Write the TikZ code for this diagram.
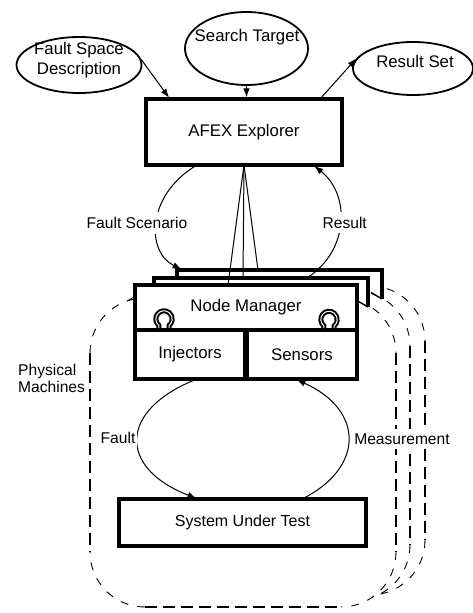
\documentclass[tikz,border=0pt]{standalone}
\usepackage{fontspec}
\setmainfont{Liberation Sans}
\usetikzlibrary{shapes.geometric,arrows.meta}
\newcommand\dregion[4]{%
  \fill[white] (#1,#2) [rounded corners=55pt] rectangle (#3,#4);
  \draw[dstraight] (#3,{#2+55}) -- (#3,{#4-55});
  \draw[dstraight] ({#1+55},#4) -- ({#3-55},#4);
  \draw[dstraight] (#1,{#2+55}) -- (#1,{#4-55});
  \draw[darc] ({#3-55},#2) arc[start angle=270,end angle=360,radius=55];
  \draw[darc] (#3,{#4-55}) arc[start angle=0,end angle=90,radius=55];
  \draw[darc] ({#1+55},#4) arc[start angle=90,end angle=180,radius=55];
  \draw[darc] (#1,{#2+55}) arc[start angle=180,end angle=270,radius=55];
}
\newcommand\omegaconn[2]{%
  \draw[line width=5pt] ({#1-5.2},330) -- ({#1-5.2},{#2+6.3}) arc[start angle=129.5,end angle=410.5,radius=8.2] -- ({#1+5.2},330);
  \draw[white,line width=1pt] ({#1-5.2},328) -- ({#1-5.2},{#2+6.3}) arc[start angle=129.5,end angle=410.5,radius=8.2] -- ({#1+5.2},328);
}
\begin{document}
\begin{tikzpicture}[x=1pt,y=-1pt,
  boxthick/.style={draw,line width=3.2pt,fill=white,inner sep=0pt,outer sep=0pt,anchor=north west},
  oval/.style={draw,ellipse,line width=1.8pt,inner sep=0pt},
  conn/.style={line width=1pt},
  arr/.style={conn,-{Latex[length=9pt,width=6.5pt]}},
  main/.style={font=\fontsize{16.8}{19.5}\selectfont},
  lbl/.style={fill=white,inner xsep=3pt,inner ysep=5pt,font=\fontsize{15.6}{17}\selectfont},
  dstraight/.style={line width=1.9pt,dash pattern=on 12pt off 6pt},
  darc/.style={line width=0.9pt,dash pattern=on 8pt off 9pt},
  cardfill/.style={fill=white,draw=none,inner sep=0pt,outer sep=0pt,anchor=north west},
  cardedge/.style={line width=3.2pt,line join=miter},
  carddiag/.style={line width=1.4pt}
]
\useasboundingbox (0,0) rectangle (473,613);

% dashed machine regions (back to front)
\dregion{119}{286}{425}{595}
\dregion{104}{291}{410}{600}
\dregion{90}{298}{396}{607}

% stacked cards behind the front one
\node[cardfill,minimum width=205,minimum height=22] (card3) at (177,270) {};
\fill[white] (382,292) -- (382,299) -- (370,292) -- cycle;
\draw[cardedge] (177,280) -- (177,270) -- (382,270) -- (382,299);
\draw[carddiag] (371,292.5) -- (382,299);
\node[cardfill,minimum width=214,minimum height=23] (card2) at (154,278) {};
\fill[white] (368,301) -- (368,307) -- (357,301) -- cycle;
\draw[cardedge] (154,287) -- (154,278) -- (368,278) -- (368,307);
\draw[carddiag] (357,300.5) -- (368,307);

% front card
\node[boxthick,minimum width=222,minimum height=45,main] (nm) at (135,285) {Node Manager};
\node[boxthick,minimum width=110,minimum height=49,main] (inj) at (135,330) {Injectors};
\node[boxthick,minimum width=110,minimum height=49,main] (sen) at (247,330) {Sensors};
\omegaconn{164}{319}
\omegaconn{329}{319.5}

% explorer and inputs/outputs
\node[boxthick,minimum width=196,minimum height=66,main] (afex) at (146,99) {AFEX Explorer};
\node[boxthick,minimum width=247,minimum height=47,font=\fontsize{16}{19}\selectfont] (sut) at (119,499) {System Under Test};

\node[oval,minimum width=125,minimum height=56] (fsd) at (79,65) {};
\node[main,align=center,inner sep=0pt] (fsdt) at (79,60) {Fault Space\\Description};
\node[oval,minimum width=123,minimum height=73] (st) at (246.5,48.5) {};
\node[main,inner sep=0pt] (stt) at (247,37) {Search Target};
\node[oval,minimum width=120,minimum height=53] (rs) at (413,68.5) {};
\node[main,inner sep=0pt] (rst) at (415,61) {Result Set};

% connectors
\draw[arr,shorten >=1.6pt] (fsd.5) -- ([xshift=24pt]afex.north west);
\draw[arr,shorten >=1.6pt] (st.south) -- (st.south |- afex.north);
\draw[arr,shorten <=1.6pt] ([xshift=-22pt]afex.north east) -- (rs.170);

\draw[conn] (afex.south) -- ([xshift=-18pt]nm.north);
\draw[conn] (afex.south) -- ([xshift=-18pt]card2.north);
\draw[conn] (afex.south) -- ([xshift=-21.5pt]card3.north);

\draw[arr,shorten >=1.6pt] ([xshift=-47pt]afex.south) .. controls (146,195) and (146,252) .. ([xshift=6pt]card3.north west);
\draw[arr,shorten >=1.6pt] ([xshift=46pt]card2.north) .. controls (350,250) and (350,194) .. ([xshift=69pt]afex.south);

\draw[arr,shorten >=1.6pt] ([xshift=7pt]inj.south) .. controls (118,410) and (118,468) .. ([xshift=-44.5pt]sut.north);
\draw[arr,shorten >=1.6pt] ([xshift=59.5pt]sut.north) .. controls (364.5,468) and (364.5,410) .. ([xshift=-7pt]sen.south);

% labels
\node[lbl] (lfs) at (137,223) {Fault Scenario};
\node[lbl] (lr) at (344.7,222.7) {Result};
\node[lbl,inner xsep=1.5pt] (lf) at (118,437.5) {Fault};
\node[lbl,inner xsep=2pt] (lm) at (402,439) {Measurement};
\node[lbl,align=left,anchor=west] (lpm) at (15,378.5) {Physical\\Machines};
\end{tikzpicture}
\end{document}
